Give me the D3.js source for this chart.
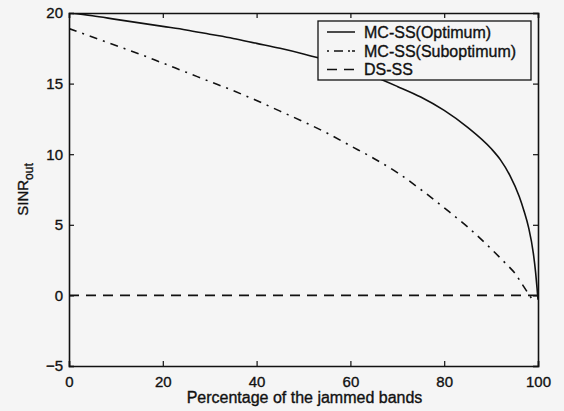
<!DOCTYPE html>
<html>
<head>
<meta charset="utf-8">
<script src="https://cdn.jsdelivr.net/npm/d3@7"></script>
<style>
  html, body { margin: 0; padding: 0; background: #f5f5f5; }
  svg { display: block; }
  text { font-family: "Liberation Sans", Arial, Helvetica, sans-serif; fill: #111; stroke: #111; stroke-width: 0.35; }
</style>
</head>
<body>
<div id="chart"></div>
<script>
// ---- data ----
const optX = [0, 5, 10, 15, 20, 25, 30, 35, 40, 45, 50, 55, 60, 65, 70, 75, 80, 85, 90, 92, 94, 96, 97, 98, 99, 99.5, 99.8, 100];
const optY = [20.0, 19.8, 19.55, 19.3, 19.05, 18.8, 18.5, 18.2, 17.85, 17.5, 17.1, 16.65, 16.1, 15.5, 14.8, 14.05, 13.1, 11.9, 10.4, 9.6, 8.5, 7.0, 6.0, 4.8, 3.0, 1.6, 0.5, -0.3];

const subX = [0, 5, 10, 15, 20, 25, 30, 35, 40, 45, 50, 55, 60, 65, 70, 75, 80, 85, 90, 93, 95, 97, 98, 99];
const subY = [18.9, 18.3, 17.7, 17.1, 16.45, 15.8, 15.15, 14.5, 13.8, 13.05, 12.3, 11.5, 10.6, 9.7, 8.7, 7.5, 6.2, 4.85, 3.3, 2.3, 1.6, 0.6, 0.1, -0.4];

const dsX = [0, 100];
const dsY = [0, 0];

const seriesNames = ["MC-SS(Optimum)", "MC-SS(Suboptimum)", "DS-SS"];
const xTicks = [0, 20, 40, 60, 80, 100];
const yTicks = [-5, 0, 5, 10, 15, 20];
const xLabel = "Percentage of the jammed bands";
const yLabelMain = "SINR";
const yLabelSub = "out";

// ---- layout ----
const W = 564, H = 411;
const M = { left: 69, right: 26, top: 13, bottom: 45 };
const iw = W - M.left - M.right, ih = H - M.top - M.bottom;

const svg = d3.select("#chart").append("svg").attr("width", W).attr("height", H);
svg.append("rect").attr("width", W).attr("height", H).attr("fill", "#f5f5f5");

const x = d3.scaleLinear().domain([0, 100]).range([M.left, M.left + iw]);
const y = d3.scaleLinear().domain([-5, 20]).range([M.top + ih, M.top]);

const g = svg.append("g");

// axes (ticks inward, box)
const axB = g.append("g").attr("transform", `translate(0,${M.top + ih})`)
  .call(d3.axisBottom(x).tickValues(xTicks).tickSize(-5).tickPadding(10).tickFormat(d3.format("d")));
const axT = g.append("g").attr("transform", `translate(0,${M.top})`)
  .call(d3.axisTop(x).tickValues(xTicks).tickSize(-5).tickFormat(""));
const axL = g.append("g").attr("transform", `translate(${M.left},0)`)
  .call(d3.axisLeft(y).tickValues(yTicks).tickSize(-5).tickPadding(6).tickFormat(d => d < 0 ? "\u2212" + Math.abs(d) : d));
const axR = g.append("g").attr("transform", `translate(${M.left + iw},0)`)
  .call(d3.axisRight(y).tickValues(yTicks).tickSize(-5).tickFormat(""));

[axB, axT, axL, axR].forEach(a => {
  a.select(".domain").attr("stroke", "#111").attr("stroke-width", 1.6);
  a.selectAll(".tick line").attr("stroke", "#111").attr("stroke-width", 1.2);
  a.selectAll("text").attr("font-size", 15).attr("fill", "#111")
    .attr("font-family", '"Liberation Sans", Arial, sans-serif');
});

// lines
const line = d3.line().curve(d3.curveMonotoneX).x(d => x(d[0])).y(d => y(d[1]));
const dashes = ["none", "8,6,2,6", "10,7"];
const seriesData = [
  optX.map((v, i) => [v, optY[i]]),
  subX.map((v, i) => [v, subY[i]]),
  dsX.map((v, i) => [v, dsY[i]])
];
svg.append("clipPath").attr("id", "clip").append("rect")
  .attr("x", M.left).attr("y", M.top).attr("width", iw).attr("height", ih);

seriesData.forEach((d, i) => {
  g.append("path").datum(d)
    .attr("d", line)
    .attr("fill", "none")
    .attr("stroke", "#111")
    .attr("stroke-width", 1.6)
    .attr("stroke-dasharray", dashes[i])
    .attr("clip-path", "url(#clip)");
});

// legend
const lg = svg.append("g");
lg.append("rect").attr("x", 318).attr("y", 21).attr("width", 213).attr("height", 59)
  .attr("fill", "#f5f5f5").attr("stroke", "#111").attr("stroke-width", 1.3);
const rowY = [32, 51, 69.5];
seriesNames.forEach((name, i) => {
  lg.append("line").attr("x1", 327).attr("x2", 355).attr("y1", rowY[i]).attr("y2", rowY[i])
    .attr("stroke", "#111").attr("stroke-width", 1.5)
    .attr("stroke-dasharray", i === 1 ? "2,5,9,5,2" : (i === 2 ? "10,7" : "none"));
  lg.append("text").attr("x", 364).attr("y", rowY[i] + 5.6).attr("font-size", 16).text(name);
});

// axis labels
svg.append("text").attr("x", x(50) + 1).attr("y", 403).attr("text-anchor", "middle")
  .attr("font-size", 16).text(xLabel);

const yl = svg.append("text")
  .attr("transform", `translate(28,${(M.top + M.top + ih) / 2}) rotate(-90)`)
  .attr("text-anchor", "middle").attr("font-size", 15);
yl.append("tspan").text(yLabelMain);
yl.append("tspan").attr("font-size", 12).attr("dy", 5).text(yLabelSub);
</script>
</body>
</html>
